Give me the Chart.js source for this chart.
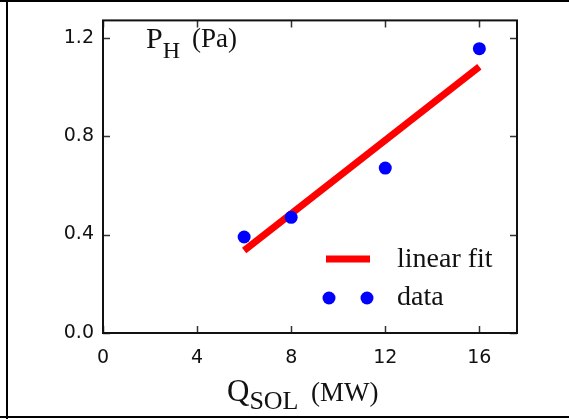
<!DOCTYPE html>
<html>
<head>
<meta charset="utf-8">
<script src="https://cdn.jsdelivr.net/npm/chart.js@4"></script>
<style>
  html, body { margin: 0; padding: 0; background: #fff; }
  #wrap { width: 569px; height: 419px; }
</style>
</head>
<body>
<div id="wrap"><canvas id="c" width="569" height="419"></canvas></div>
<script>
// Heating power crossing the separatrix, Q_SOL (MW)
const heatingPower = [6, 8, 12, 16];
// Measured pressure P_H (Pa)
const pressure = [0.39, 0.47, 0.67, 1.155];
// Linear fit end points
const fitX = [6, 16];
const fitY = [0.335, 1.082];
// Tick values
const xTicks = [0, 4, 8, 12, 16];
const yTicks = [0, 0.4, 0.8, 1.2];

const SERIF = '"Liberation Serif", "DejaVu Serif", serif';
const SANS = '"DejaVu Sans", sans-serif';

// Draws the frame, the axes box with inward ticks, the axis titles and the legend
const decorations = {
  id: 'decorations',
  beforeDraw(chart) {
    const ctx = chart.ctx;
    ctx.save();
    ctx.fillStyle = '#fff';
    ctx.fillRect(0, 0, chart.width, chart.height);
    ctx.fillStyle = '#000';
    ctx.fillRect(0, 0, chart.width, 2);
    ctx.fillRect(0, chart.height - 3, chart.width, 2);
    ctx.fillRect(6, 0, 2, chart.height);
    ctx.restore();
  },
  afterDraw(chart) {
    const ctx = chart.ctx;
    const a = chart.chartArea;
    const xs = chart.scales.x, ys = chart.scales.y;
    ctx.save();

    // inward ticks on all four sides
    ctx.strokeStyle = '#333';
    ctx.lineWidth = 1.5;
    const tl = 7;
    ctx.beginPath();
    xs.ticks.forEach(t => {
      const px = Math.round(xs.getPixelForValue(t.value)) + 0.5;
      ctx.moveTo(px, a.bottom); ctx.lineTo(px, a.bottom - tl);
      ctx.moveTo(px, a.top); ctx.lineTo(px, a.top + tl);
    });
    ys.ticks.forEach(t => {
      const py = Math.round(ys.getPixelForValue(t.value)) + 0.5;
      ctx.moveTo(a.left, py); ctx.lineTo(a.left + tl, py);
      ctx.moveTo(a.right, py); ctx.lineTo(a.right - tl, py);
    });
    ctx.stroke();

    // axes box
    ctx.strokeStyle = '#111';
    ctx.lineWidth = 2;
    ctx.strokeRect(a.left, a.top, a.right - a.left, a.bottom - a.top);

    // axis titles with subscripts
    ctx.fillStyle = '#111';
    ctx.textBaseline = 'alphabetic';
    ctx.textAlign = 'left';

    // x title: Q_SOL (MW)
    let x = a.left + 124;
    ctx.font = '31px ' + SERIF;
    ctx.fillText('Q', x, 401);
    x += ctx.measureText('Q').width;
    ctx.font = '26px ' + SERIF;
    ctx.fillText('SOL', x, 409);
    ctx.font = '27px ' + SERIF;
    ctx.fillText('(MW)', a.left + 208, 401);

    // y title inside the axes: P_H (Pa)
    x = a.left + 43;
    ctx.font = '30px ' + SERIF;
    ctx.fillText('P', x, 48);
    x += ctx.measureText('P').width;
    ctx.font = '24px ' + SERIF;
    ctx.fillText('H', x, 58);
    ctx.font = '27px ' + SERIF;
    ctx.fillText('(Pa)', a.left + 89, 47);

    // legend
    const lx = a.left + 223;
    ctx.strokeStyle = '#ff0000';
    ctx.lineWidth = 7;
    ctx.beginPath();
    ctx.moveTo(lx, 259); ctx.lineTo(lx + 44, 259);
    ctx.stroke();
    ctx.fillStyle = '#0000ff';
    [lx + 3, lx + 41].forEach(cx => {
      ctx.beginPath();
      ctx.arc(cx, 298, 6.5, 0, Math.PI * 2);
      ctx.fill();
    });
    ctx.fillStyle = '#111';
    ctx.font = '28px ' + SERIF;
    ctx.fillText('linear fit', a.left + 294, 267);
    ctx.fillText('data', a.left + 294, 305);

    ctx.restore();
  }
};

new Chart(document.getElementById('c'), {
  type: 'scatter',
  data: {
    datasets: [
      {
        label: 'data',
        data: heatingPower.map((q, i) => ({ x: q, y: pressure[i] })),
        backgroundColor: '#0000ff',
        borderWidth: 0,
        pointRadius: 6.5,
        pointHoverRadius: 6.5,
        order: 0
      },
      {
        label: 'linear fit',
        type: 'line',
        data: fitX.map((q, i) => ({ x: q, y: fitY[i] })),
        borderColor: '#ff0000',
        borderWidth: 7,
        borderCapStyle: 'butt',
        pointRadius: 0,
        fill: false,
        order: 1
      }
    ]
  },
  options: {
    responsive: false,
    animation: false,
    devicePixelRatio: 1,
    layout: { padding: { left: 0, top: 11.5, right: 52, bottom: 0 } },
    plugins: { legend: { display: false }, tooltip: { enabled: false } },
    scales: {
      x: {
        type: 'linear',
        min: 0,
        max: 17.6,
        afterBuildTicks: s => { s.ticks = xTicks.map(v => ({ value: v })); },
        afterFit: s => { s.height = 86; },
        grid: { display: false, drawTicks: false },
        border: { display: false },
        ticks: {
          padding: 14,
          color: '#111',
          font: { family: SANS, size: 19 },
          callback: v => String(v)
        }
      },
      y: {
        type: 'linear',
        min: 0,
        max: 1.27,
        afterBuildTicks: s => { s.ticks = yTicks.map(v => ({ value: v })); },
        afterFit: s => { s.width = 103; },
        grid: { display: false, drawTicks: false },
        border: { display: false },
        ticks: {
          padding: 9,
          color: '#111',
          font: { family: SANS, size: 19 },
          callback: v => v.toFixed(1)
        }
      }
    }
  },
  plugins: [decorations]
});
</script>
</body>
</html>
